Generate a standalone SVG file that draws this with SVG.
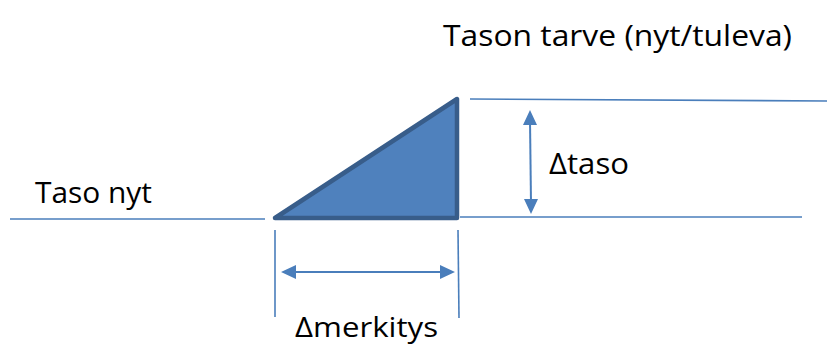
<svg xmlns="http://www.w3.org/2000/svg" width="827" height="345" viewBox="0 0 827 345">
<style>
.ln{stroke:#4a7ebb;stroke-width:1.6;fill:none}
.arr{stroke:#4a7ebb;stroke-width:2;fill:none}
.head{fill:#4a7ebb}
.t{font-family:"Open Sans","Liberation Sans",sans-serif;font-size:30px;fill:#000}
</style>
<rect width="827" height="345" fill="#fff"/>
<g id="connectors">
<line class="ln" x1="10" y1="219" x2="265" y2="219"/>
<line class="ln" x1="470" y1="99" x2="827" y2="101"/>
<line class="ln" x1="460" y1="217" x2="802" y2="217"/>
<line class="ln" x1="275" y1="230" x2="275" y2="317"/>
<line class="ln" x1="458" y1="230" x2="459" y2="318"/>
<line class="arr" x1="530" y1="120" x2="531" y2="204"/>
<path class="head" d="M530,110 L523,125 L537,125 Z M531,214 L524,199 L538,199 Z"/>
<line class="arr" x1="290" y1="272" x2="445" y2="272"/>
<path class="head" d="M281,272 L296,265 L296,279 Z M455,272 L440,265 L440,279 Z"/>
</g>
<g id="triangle">
<path d="M275,218 L457,99 L457,218 Z" fill="#4f81bd" stroke="#385d8a" stroke-width="4.5" stroke-linejoin="round"/>
</g>
<g id="label-tarve"><text class="t" x="443" y="46" textLength="349" lengthAdjust="spacingAndGlyphs">Tason tarve (nyt/tuleva)</text></g>
<g id="label-taso"><text class="t" x="549" y="174" textLength="80" lengthAdjust="spacingAndGlyphs">Δtaso</text></g>
<g id="label-nyt"><text class="t" x="35" y="203" textLength="117" lengthAdjust="spacingAndGlyphs">Taso nyt</text></g>
<g id="label-merkitys"><text class="t" x="295" y="337" style="font-size:28px" textLength="143" lengthAdjust="spacingAndGlyphs">Δmerkitys</text></g>
</svg>
